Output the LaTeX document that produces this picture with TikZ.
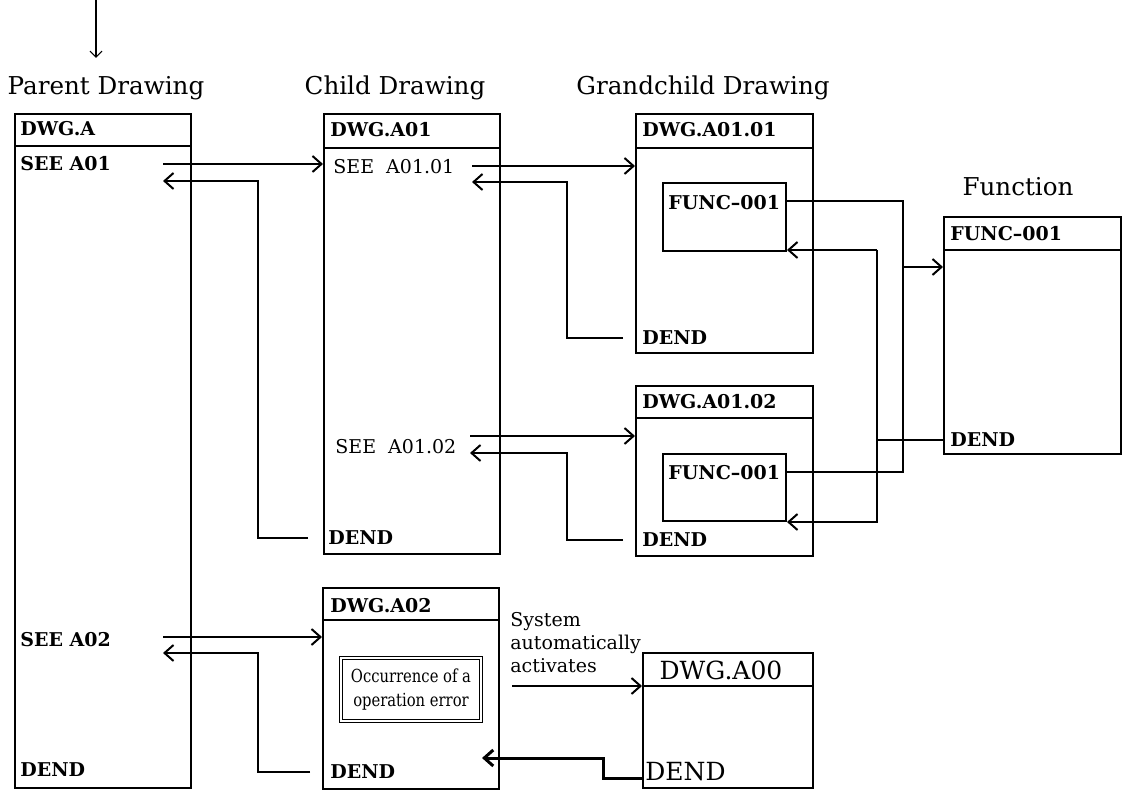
\documentclass[tikz,border=0pt]{standalone}
\usepackage{fontspec}
\setmainfont{DejaVu Serif}
\newfontfamily\narrowfont{DejaVu Serif}[FakeStretch=0.82]
\usetikzlibrary{arrows.meta}

\tikzset{
  dwg/.style={draw, line width=1pt, anchor=north west, inner sep=0pt},
  lbl/.style={anchor=west, inner sep=0pt, font=\fontsize{9.5}{11}\selectfont\bfseries},
  reg/.style={anchor=west, inner sep=0pt, font=\fontsize{9.5}{11.5}\selectfont},
  big/.style={inner sep=0pt, font=\fontsize{12.5}{14}\selectfont},
  ttl/.style={inner sep=0pt, font=\fontsize{12.3}{14}\selectfont},
  link/.style={line width=1pt, -{Straight Barb[length=4.5pt,width=8pt]}},
  wire/.style={line width=1pt},
}

\begin{document}
\begin{tikzpicture}[x=0.5pt, y=-0.5pt]
    \useasboundingbox (0,0) rectangle (1129,790);
    % titles
    \node[ttl] (ptitle) at (106,88) {Parent Drawing};
    \node[ttl] (ctitle) at (395,88) {Child Drawing};
    \node[ttl] (gtitle) at (703,88) {Grandchild Drawing};
    \node[ttl] (ftitle) at (1018,187) {Function};
    \coordinate (entry) at (96,0);
    \coordinate (entryend) at (96,58);
    \draw[line width=0.6pt, -{Straight Barb[length=3pt,width=6pt]}] (entry) -- (entryend);

    % drawing frames: name/x/y/width/height/header
    \foreach \n/\x/\y/\w/\h/\hd in {par/14/113/176/674/33, ch1/323/113/176/440/35,
        gc1/635/113/177/239/35, gc2/635/385/177/170/33, fun/943/216/177/237/34,
        ch2/322/587/176/201/33, a00/642/652/170/135/34}
      {\pgfmathsetmacro\ww{\w*0.5}
       \pgfmathsetmacro\hh{\h*0.5}
       \pgfmathsetmacro\dd{\hd*0.5}
       \node[dwg, minimum width=\ww pt, minimum height=\hh pt] (\n) at (\x,\y) {};
       \draw[wire] ([yshift=-\dd pt]\n.north west) -- ([yshift=-\dd pt]\n.north east);}
    \node[dwg, minimum width=61.5pt, minimum height=34pt] (fb1) at (662,182) {};
    \node[dwg, minimum width=61.5pt, minimum height=33.5pt] (fb2) at (662,453) {};
    \node[draw, double, line width=0.5pt, double distance=1pt, minimum width=70pt,
      minimum height=31.5pt, align=center, inner sep=0pt,
      font=\narrowfont\fontsize{9}{12}\selectfont] (err) at (411,689.5)
      {Occurrence of a\\operation error};

    % texts in the frames
    \node[lbl] (parhd) at (20,129) {DWG.A};
    \node[lbl] (see1) at (20,164) {SEE A01};
    \node[lbl] (see2) at (20,640) {SEE A02};
    \node[lbl] (pdend) at (20,770) {DEND};
    \node[lbl] (ch1hd) at (330,130) {DWG.A01};
    \node[reg] (see11) at (333,167) {SEE~ A01.01};
    \node[reg] (see12) at (335,447) {SEE~ A01.02};
    \node[lbl] (cdend) at (328,538) {DEND};
    \node[lbl] (gc1hd) at (642,130) {DWG.A01.01};
    \node[lbl] (func1) at (668,203) {FUNC--001};
    \node[lbl] (g1dend) at (642,338) {DEND};
    \node[lbl] (gc2hd) at (642,402) {DWG.A01.02};
    \node[lbl] (func2) at (668,473) {FUNC--001};
    \node[lbl] (g2dend) at (642,540) {DEND};
    \node[lbl] (funhd) at (950,234) {FUNC--001};
    \node[lbl] (fdend) at (950,440) {DEND};
    \node[lbl] (ch2hd) at (330,606) {DWG.A02};
    \node[lbl] (c2dend) at (330,772) {DEND};
    \node[big] (a00hd) at (721,670) {DWG.A00};
    \node[big, anchor=west] (adend) at (645,772) {DEND};
    \node[reg, align=left] (auto) at (510,643) {System\\automatically\\activates};

    % calls and returns
    \coordinate (c1) at (163,164);
    \draw[link] (c1) -- (c1 -| ch1.west);
    \draw[link] ([xshift=-10pt]cdend.west) -| (258,181) -- (163,181);
    \coordinate (c2) at (472,166);
    \draw[link] (c2) -- (c2 -| gc1.west);
    \draw[link] ([xshift=-9.5pt]g1dend.west) -| (567,182) -- (472,182);
    \coordinate (c3) at (470,436);
    \draw[link] (c3) -- (c3 -| gc2.west);
    \draw[link] ([xshift=-9.5pt]g2dend.west) -| (567,453) -- (470,453);
    \draw[wire] ([yshift=8pt]fb1.east) -| (903,472) -- (fb2.east |- 903,472);
    \coordinate (merge) at (903,267);
    \draw[link] (merge) -- (merge -| fun.west);
    \coordinate (split) at (877,250);
    \draw[wire] (fun.west |- fdend) -- (split |- fdend);
    \draw[link] (split) -- (split -| fb1.east);
    \draw[link] (split) |- (fb2.south east);
    \coordinate (c4) at (163,637);
    \draw[link] (c4) -- (c4 -| ch2.west);
    \draw[link] ([xshift=-10pt]c2dend.west) -| (258,653) -- (163,653);
    \coordinate (c5) at (512,686);
    \draw[link] (c5) -- (c5 -| a00.west);
    \coordinate (a00in) at (642,778);
    \draw[link, line width=1.5pt] (a00in) -| (603,758) -- (482,758);
\end{tikzpicture}
\end{document}
